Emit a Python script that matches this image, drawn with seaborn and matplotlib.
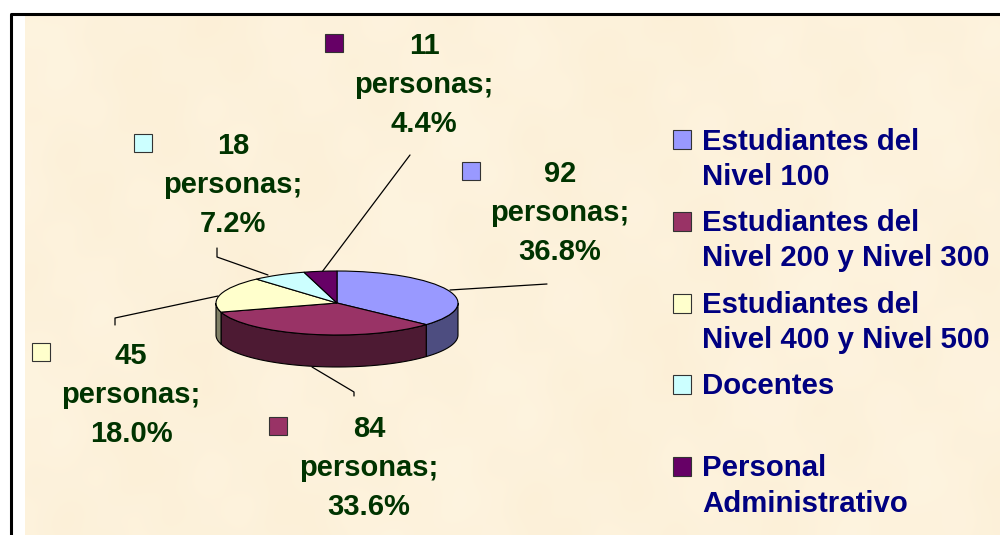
import numpy as np
import matplotlib
matplotlib.use("Agg")
import matplotlib.pyplot as plt
from matplotlib.patches import Rectangle
import seaborn as sns

categorias = ["Estudiantes del\nNivel 100", "Estudiantes del\nNivel 200 y Nivel 300",
              "Estudiantes del\nNivel 400 y Nivel 500", "Docentes", "Personal\nAdministrativo"]
personas = [92, 84, 45, 18, 11]
porcentajes = [36.8, 33.6, 18.0, 7.2, 4.4]
colores = ["#9999FF", "#993366", "#FFFFCC", "#CCFFFF", "#660066"]
colores_lado = ["#4D4D80", "#4D1A33", "#808066", "#668080", "#330033"]

sns.set_theme(style="white")
plt.rcParams["font.family"] = ["Liberation Sans", "DejaVu Sans"]
plt.rcParams["font.weight"] = "bold"
paleta = sns.color_palette(colores)

fig = plt.figure(figsize=(10, 5.35), dpi=100, facecolor="white")

# fondo y marco, en pixeles
ax = fig.add_axes([0, 0, 1, 1])
ax.set_xlim(0, 1000)
ax.set_ylim(535, 0)
ax.axis("off")

xx, yy = np.meshgrid(np.arange(975), np.arange(520))
textura = (np.sin(xx / 37 + yy / 53) + np.sin(xx / 19 - yy / 29 + 1.3) + np.sin(xx / 71 + 2.1)
           + 0.6 * np.sin(xx / 11 + yy / 13) * np.sin(yy / 23 - xx / 31))
textura = textura / np.abs(textura).max()
fondo = np.dstack([0.992 + 0.002 * textura, 0.948 + 0.008 * textura, 0.860 + 0.016 * textura])
ax.imshow(np.clip(fondo, 0, 1), extent=(25, 1000, 535, 15), aspect="auto", zorder=0)
ax.set_xlim(0, 1000)
ax.set_ylim(535, 0)
ax.plot([10.5, 10.5, 1000], [535, 14, 14], color="black", lw=2.2, zorder=1)

# lineas guia
guias = [([450, 547], [290, 284]),
         ([312, 354, 354], [367, 392, 396]),
         ([218, 115, 115], [296, 318, 325]),
         ([268, 217, 217], [275, 257, 248]),
         ([322, 410], [272, 155])]
for gx, gy in guias:
    ax.plot(gx, gy, color="black", lw=0.9, zorder=2)

# etiquetas de datos
pos_etiquetas = [(560, 213), (369, 468), (131, 395), (233, 185), (424, 85)]
pos_cuadros = [(471, 171), (278, 426), (41, 352), (143, 143), (334, 43)]
for i in range(len(personas)):
    x, y = pos_etiquetas[i]
    texto = f"{personas[i]}\npersonas;\n{porcentajes[i]:.1f}%"
    ax.text(x, y, texto, ha="center", va="center", fontsize=21, fontweight="bold",
            color="#003300", linespacing=1.52, zorder=4)
    cx, cy = pos_cuadros[i]
    ax.add_patch(Rectangle((cx - 9, cy - 9), 18, 18, facecolor=paleta[i], edgecolor="#333333", lw=0.8, zorder=4))

# leyenda
pos_leyenda = [159.5, 240.5, 322.5, 386, 486]
pos_cuadros_ley = [139, 221, 303, 384, 466]
for i, cat in enumerate(categorias):
    ax.text(702, pos_leyenda[i], cat, ha="left", va="center", fontsize=21.2, fontweight="bold",
            color="#000080", linespacing=1.33, zorder=4)
    ax.add_patch(Rectangle((673, pos_cuadros_ley[i] - 9.5), 18, 19, facecolor=paleta[i],
                           edgecolor="#333333", lw=0.8, zorder=4))

# torta: elipse centrada en (337, 303), radios 121 y 32 px
ax_pie = fig.add_axes([(337 - 121) / 1000, 1 - (303 + 32) / 535, 242 / 1000, 64 / 535])
ax_pie.patch.set_alpha(0)
fracs = np.array(personas) / sum(personas)
limites = 90 - 360 * np.concatenate([[0], np.cumsum(fracs)])

# costado visible: solo la mitad delantera, de 0 a -180 grados
profundidad = 1.0
for i in range(len(personas)):
    a2 = min(limites[i], 0)
    a1 = max(limites[i + 1], -180)
    if a1 >= a2:
        continue
    tramo = np.radians(np.linspace(a2, a1, 40))
    tx = np.cos(tramo)
    ty = np.sin(tramo)
    ax_pie.fill(np.r_[tx, tx[::-1]], np.r_[ty, ty[::-1] - profundidad], facecolor=colores_lado[i],
                edgecolor="black", lw=0.8, clip_on=False, zorder=1)

ax_pie.pie(personas, colors=paleta, startangle=90, counterclock=False, radius=1,
           wedgeprops={"edgecolor": "black", "linewidth": 0.8, "zorder": 3, "clip_on": False})
ax_pie.set_aspect("auto")
ax_pie.set_xlim(-1, 1)
ax_pie.set_ylim(-1, 1)
ax_pie.axis("off")

fig.savefig("out.png", dpi=100)
